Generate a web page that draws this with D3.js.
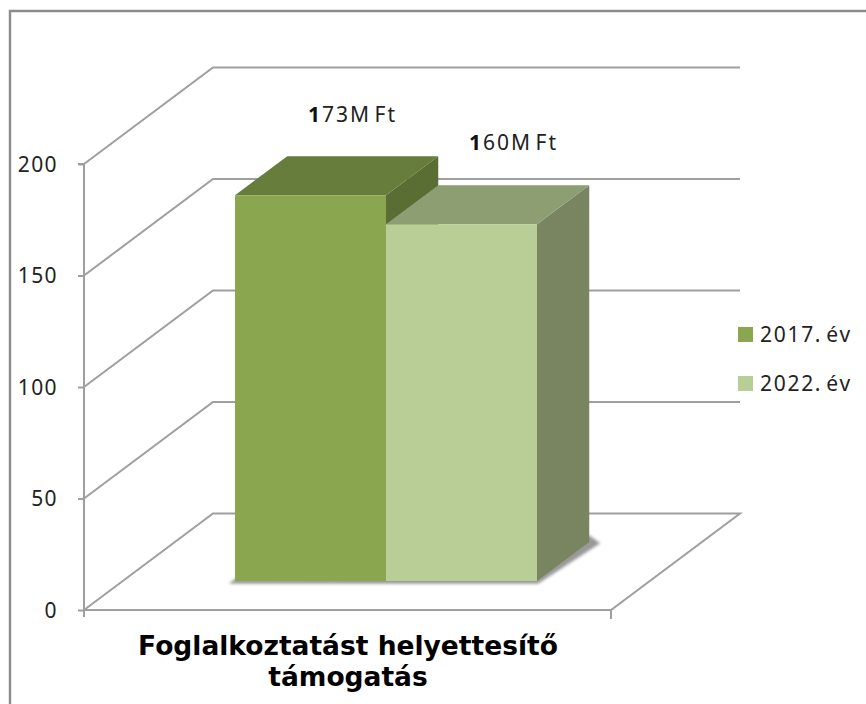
<!DOCTYPE html>
<html><head><meta charset="utf-8">
<script src="https://cdn.jsdelivr.net/npm/d3@7/dist/d3.min.js"></script>
<style>html,body{margin:0;background:#fff}svg{display:block}
text{font-family:"Noto Sans",sans-serif;fill:#222}</style></head><body>
<script>
const categories=["Foglalkoztatást helyettesítő","támogatás"];
const seriesNames=["2017. év","2022. év"];
const seriesValues=[173,160];
const valueLabels=["173M Ft","160M Ft"];
const tickValues=[0,50,100,150,200];
const frontColors=["#8aa64f","#b9ce96"];
const topColors=["#667d3b","#8d9e73"];
const sideColors=["#5a6d32","#788560"];

const W=866,H=704;
const svg=d3.select("body").append("svg").attr("width",W).attr("height",H);
svg.append("rect").attr("width",W).attr("height",H).attr("fill","#fff");
const defs=svg.append("defs");
defs.append("filter").attr("id","soft").attr("x","-10%").attr("y","-10%").attr("width","120%").attr("height","120%")
  .append("feGaussianBlur").attr("stdDeviation",0.45);
defs.append("filter").attr("id","shadow").attr("x","-10%").attr("y","-10%").attr("width","120%").attr("height","120%")
  .append("feGaussianBlur").attr("stdDeviation",1.8);

svg.append("path").attr("d",`M10,${H}V11H${W}`).attr("fill","none").attr("stroke","#8c8c8c").attr("stroke-width",2.4);

const y=d3.scaleLinear().domain([0,200]).range([610,164]);
const xOuter=d3.scaleLinear().domain([0,1]).range([84,611]);
const dx=d3.scaleLinear().domain([0,1]).range([0,129]);
const dy=d3.scaleLinear().domain([0,1]).range([0,-96.5]);
const xBar=d3.scaleBand().domain(seriesNames).range([196.3,498.3]);
const pt=(x,v,d)=>[x+dx(d),y(v)+dy(d)];
const line=d3.line();

const grid=svg.append("g").attr("fill","none").attr("stroke","#9f9f9f").attr("stroke-width",2).attr("filter","url(#soft)");
tickValues.forEach(t=>{
  if(t>0) grid.append("path").attr("d",line([pt(84,t,0),pt(84,t,1),pt(611,t,1)]));
});
grid.append("path").attr("d",line([pt(84,0,0),pt(84,0,1),pt(611,0,1),pt(611,0,0),pt(84,0,0)]));

const axis=svg.append("g").attr("transform","translate(84,0)")
  .call(d3.axisLeft(y).tickValues(tickValues).tickSize(6).tickPadding(20).tickFormat(d3.format("d")));
axis.selectAll("line,path").attr("stroke","#9f9f9f").attr("stroke-width",2);
axis.select(".domain").attr("d",`M-6,${y(200)}H0V${y(0)+7}`);
axis.selectAll("text").attr("font-size",21).attr("fill","#222").style("font-family",'"Noto Sans",sans-serif').attr("letter-spacing",1.4).attr("dy","0.34em");
svg.append("line").attr("x1",xOuter(1)).attr("x2",xOuter(1)).attr("y1",y(0)).attr("y2",y(0)+9).attr("stroke","#9f9f9f").attr("stroke-width",2);

const d0=0.3,d1=0.705;
const bw=xBar.bandwidth();
const x0=xBar(seriesNames[0]),xEnd=xBar(seriesNames[1])+bw;
svg.append("path").attr("filter","url(#shadow)").attr("fill","#999")
  .attr("d",line([pt(x0-6,-1.2,d0),pt(xEnd+1,-1.2,d0),pt(xEnd+11,-0.6,d1),pt(xEnd,3,d1),pt(xEnd,2,d0),pt(x0,1,d0)])+"Z");
const bars=svg.append("g").attr("filter","url(#soft)");
// left bar first: the right bar's top and front cover the lower part of its side
[0,1].forEach(i=>{
  const name=seriesNames[i],v=seriesValues[i],a=xBar(name),b=a+bw;
  bars.append("path").attr("fill",sideColors[i]).attr("d",line([pt(b,0,d0),pt(b,0,d1),pt(b,v,d1),pt(b,v,d0)])+"Z");
  bars.append("path").attr("fill",topColors[i]).attr("d",line([pt(a,v,d0),pt(a,v,d1),pt(b,v,d1),pt(b,v,d0)])+"Z");
  bars.append("path").attr("fill",frontColors[i]).attr("d",line([pt(a,0,d0),pt(b,0,d0),pt(b,v,d0),pt(a,v,d0)])+"Z");
});

const labelPos=[[308,122],[469,150]];
valueLabels.forEach((s,i)=>{
  const t=svg.append("text").attr("x",labelPos[i][0]).attr("y",labelPos[i][1]).attr("font-size",21).attr("letter-spacing",2).attr("word-spacing",-4);
  t.append("tspan").attr("font-weight",700).style("fill","#111").text(s[0]);
  t.append("tspan").text(s.slice(1));
});

categories.forEach((c,i)=>{
  svg.append("text").attr("x",348).attr("y",[655,686][i]).attr("text-anchor","middle")
    .attr("font-size",26.5).attr("font-weight",700).style("font-family",'"DejaVu Sans",sans-serif').style("fill","#000").text(c);
});

const legendY=d3.scalePoint().domain(seriesNames).range([335,384]);
seriesNames.forEach((s,i)=>{
  svg.append("rect").attr("x",738).attr("y",legendY(s)-8).attr("width",15).attr("height",15).attr("fill",frontColors[i]);
  svg.append("text").attr("x",760).attr("y",legendY(s)+7).attr("font-size",21).attr("letter-spacing",1.7).attr("word-spacing",-3).text(s);
});
</script></body></html>
